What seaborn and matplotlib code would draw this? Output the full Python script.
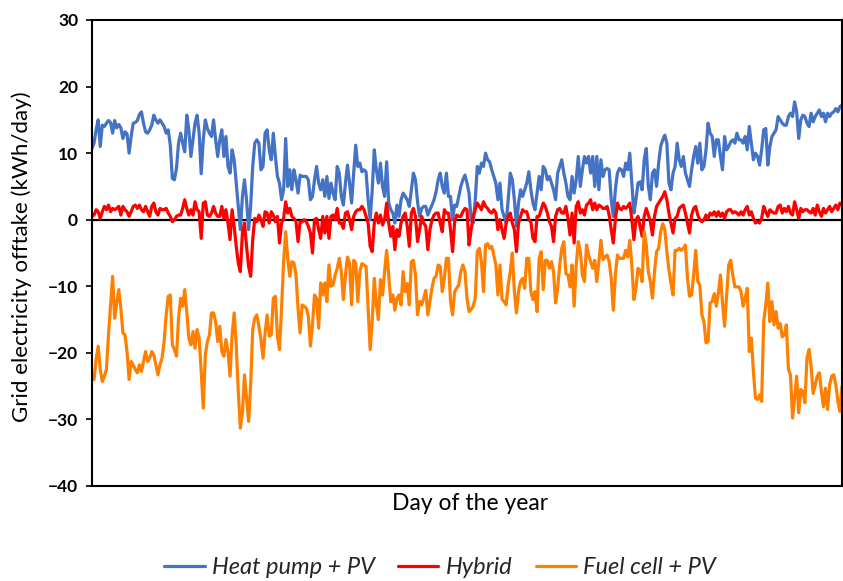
import numpy as np
import pandas as pd
import matplotlib
matplotlib.use("Agg")
import matplotlib.pyplot as plt
from matplotlib.lines import Line2D
import seaborn as sns

# Daily grid electricity offtake (kWh/day), day 1 .. 365
heat_pump_pv = [
    10.7, 11.5, 13.5, 15.0, 11.0, 14.2, 14.0, 14.5, 14.9, 14.6,
    13.0, 14.9, 13.8, 14.3, 13.8, 12.2, 13.2, 12.9, 10.0, 12.5,
    14.5, 14.6, 14.9, 15.8, 16.2, 14.5, 13.2, 13.0, 13.5, 14.2,
    15.7, 15.0, 14.5, 15.0, 14.5, 14.0, 13.0, 13.5, 11.2, 6.2,
    6.0, 7.7, 11.5, 13.0, 11.5, 10.2, 15.7, 13.5, 9.5, 12.0,
    14.5, 15.7, 13.0, 6.9, 12.0, 15.0, 13.7, 13.0, 12.5, 15.0,
    12.0, 9.5, 12.0, 13.5, 9.5, 12.5, 8.0, 7.0, 10.5, 9.0,
    5.5, 2.0, -1.5, 3.5, 6.0, 3.0, -1.5, 2.0, 8.0, 11.5,
    12.0, 11.5, 7.5, 8.0, 13.0, 13.5, 10.5, 9.0, 13.0, 9.5,
    6.5, 5.5, 3.0, 4.5, 12.2, 5.0, 7.5, 4.5, 7.5, 6.0,
    4.0, 6.7, 6.5, 6.5, 6.5, 6.0, 3.0, 3.5, 6.0, 8.0,
    5.5, 4.5, 6.0, 3.5, 6.5, 3.2, 5.5, 4.0, 3.0, 8.0,
    7.0, 3.5, 2.2, 5.5, 8.2, 5.5, 2.5, 7.0, 11.2, 8.0,
    8.5, 7.2, 7.5, 7.2, 3.0, 0.0, 4.5, 10.5, 7.5, 5.5,
    8.5, 5.0, 3.5, 8.7, 2.5, 1.5, 1.0, -0.5, 2.2, 0.5,
    3.0, 4.0, 3.5, 3.0, 2.0, 4.5, 7.0, 6.0, 2.7, 0.5,
    1.7, 2.0, 2.0, 0.7, 1.5, 2.2, 3.0, 4.2, 6.0, 7.0,
    5.0, 4.0, 7.0, 3.5, 3.5, 0.0, 2.2, 2.0, 3.5, 5.0,
    6.0, 6.7, 5.5, 4.0, 0.0, -0.5, 3.0, 8.0, 7.0, 8.5,
    8.0, 10.0, 9.0, 8.7, 7.5, 6.5, 5.5, 3.0, 5.5, 1.5,
    0.5, -0.5, 3.0, 7.0, 6.0, 3.0, -1.0, 2.5, 4.5, 3.5,
    4.5, 5.5, 7.2, 4.5, 2.5, 1.5, 4.0, 6.5, 4.5, 8.0,
    7.5, 6.0, 6.5, 5.5, 4.5, 3.0, 7.0, 8.0, 9.0, 7.0,
    5.5, 3.5, 3.0, 6.5, 4.0, 6.0, 9.5, 5.0, 7.5, 9.5,
    8.5, 9.5, 7.0, 9.5, 5.0, 9.5, 4.5, 9.0, 6.5, 7.5,
    7.7, 7.5, 3.0, 0.5, 4.5, 7.0, 7.7, 7.5, 6.5, 8.5,
    7.5, 10.0, 5.5, 1.0, 3.0, 5.5, 5.7, 4.5, 9.0, 10.7,
    5.0, 3.0, 7.0, 7.5, 5.0, 8.5, 11.0, 12.0, 12.7, 11.5,
    5.5, 4.5, 7.0, 8.0, 11.5, 9.0, 8.0, 9.5, 7.0, 6.0,
    5.0, 7.5, 9.5, 11.0, 8.5, 11.5, 7.5, 8.0, 10.5, 14.5,
    13.0, 12.5, 9.5, 12.0, 12.0, 9.5, 7.5, 12.5, 10.5, 11.0,
    11.7, 12.0, 11.5, 13.0, 12.0, 12.0, 11.5, 12.5, 10.5, 14.0,
    11.5, 9.0, 10.0, 9.5, 8.2, 10.5, 13.5, 13.7, 8.2, 11.0,
    12.5, 13.0, 13.5, 15.5, 15.0, 14.5, 14.2, 14.2, 15.5, 16.0,
    15.5, 17.7, 16.2, 12.2, 15.0, 15.7, 15.5, 14.5, 14.0, 16.0,
    14.7, 15.5, 16.0, 16.5, 15.5, 16.0, 14.7, 16.0, 15.5, 16.0,
    16.2, 16.7, 16.2, 17.0, 17.2,
]

hybrid = [
    0.5, 0.7, 1.5, 1.2, 0.2, 1.2, 2.0, 1.5, 2.2, 1.2,
    1.7, 1.5, 1.7, 2.0, 0.7, 2.0, 1.5, 1.2, 0.5, 1.2,
    2.0, 2.2, 1.7, 2.2, 1.5, 1.2, 2.0, 1.2, 0.5, 2.0,
    2.5, 1.2, 0.7, 1.7, 1.5, 1.5, 1.7, 1.0, 0.5, -0.3,
    0.0, 0.5, 0.7, 0.7, 1.7, 3.0, 1.7, 0.7, 1.5, 0.7,
    2.7, 1.5, 1.2, -2.8, 2.5, 2.7, 0.7, 0.5, 1.0, 2.0,
    1.0, 0.5, 0.5, 2.0, 0.2, 1.5, -0.5, -3.0, 1.5, -1.0,
    -4.0, -6.5, -7.8, -2.0, -0.5, -4.0, -7.0, -8.5, -3.0, 0.2,
    -0.3, 0.7, 0.0, -1.0, 1.2, 1.0, -0.5, 1.2, 0.7, -0.3,
    0.5, -3.5, -0.5, 0.2, 2.7, 1.0, 1.7, 0.5, 0.2, -0.3,
    -3.3, -0.3, -0.3, 0.0, -0.3, -1.0, -2.0, -5.0, 0.0, 0.2,
    -1.5, -2.8, 0.5, -2.0, 0.5, -2.8, 0.5, 0.7, 0.0, 1.7,
    -0.5, -0.5, -1.3, 1.0, 1.2, 0.0, -1.5, 0.5, 1.2, 1.5,
    1.5, 2.0, 1.5, 0.5, -0.5, -4.0, -4.8, -0.5, 1.0, -0.5,
    0.7, -0.8, 0.0, 2.5, -0.5, -2.5, -1.0, -4.5, -1.5, -2.5,
    -0.5, 0.5, 1.0, -1.0, -4.0, 1.0, 1.7, 0.5, -3.3, -1.5,
    0.5, -0.5, -1.0, -4.5, -1.5, 0.0, 0.7, 1.0, 1.0, -0.5,
    -1.8, 1.5, 1.0, 1.0, -1.5, -4.8, -0.3, 0.7, 0.5, 0.5,
    1.2, 1.7, 1.5, -3.8, -1.5, 0.5, 1.5, 2.5, 2.0, 1.5,
    2.7, 2.0, 1.7, 1.2, 1.0, 1.5, 1.0, -1.5, 0.0, -1.5,
    -2.8, -0.5, 0.5, 1.0, -0.5, -1.5, -4.8, -0.5, 0.5, 1.5,
    1.2, 1.2, 0.0, -0.3, -2.8, -3.3, 0.5, 0.5, 1.5, 2.5,
    2.0, 1.0, -0.3, -1.0, -3.3, 0.5, 1.5, 1.7, 1.0, 1.0,
    2.0, 0.2, -2.3, 1.0, -3.5, 2.0, 2.7, 1.0, 1.5, 0.7,
    2.2, 2.5, 3.0, 1.5, 2.5, 1.5, 2.2, 2.0, 1.7, 1.7,
    2.0, 0.7, -1.5, -3.5, 0.0, 2.5, 1.7, 1.5, 2.0, 1.7,
    2.0, 2.5, 0.0, -3.0, 0.0, 0.5, -1.0, -2.5, 0.5, 1.7,
    0.7, -0.3, -2.3, 0.5, 2.0, 2.5, 3.0, 3.5, 4.2, 3.0,
    1.0, -0.5, -2.0, 0.2, 0.5, 1.7, 2.0, 2.2, 1.0, -0.5,
    -2.0, 0.7, 1.7, 2.0, 0.7, 0.0, -0.3, 0.0, 0.7, 0.2,
    1.0, 0.7, 1.2, 0.5, 1.2, 0.5, 1.0, 0.2, 1.2, 1.5,
    1.5, 1.0, 1.2, 1.0, 0.7, 1.2, 0.7, 1.5, 2.0, 0.7,
    1.2, 0.2, -0.5, -0.3, -0.5, 0.2, 2.0, 1.2, 0.5, 1.5,
    1.2, 1.0, 1.0, 2.0, 2.2, 1.0, 1.7, 1.2, 2.0, 1.0,
    0.7, 2.7, 1.5, 0.2, 1.7, 1.2, 1.5, 1.5, 1.2, 1.0,
    1.7, 0.7, 2.2, 1.2, 0.5, 1.7, 1.0, 1.5, 2.0, 1.2,
    1.7, 2.2, 1.5, 2.5, 2.2,
]

fuel_cell_pv = [
    -24.0, -24.0, -21.0, -19.0, -22.5, -24.3, -23.5, -22.5, -17.3, -12.8,
    -8.5, -14.8, -12.5, -10.5, -13.3, -17.0, -17.3, -19.8, -24.0, -21.3,
    -21.8, -22.5, -23.0, -21.8, -22.8, -21.3, -19.8, -21.3, -20.8, -19.8,
    -20.3, -21.8, -23.3, -21.8, -20.8, -18.3, -14.3, -11.5, -11.3, -18.8,
    -19.5, -20.5, -14.8, -11.8, -13.0, -10.5, -13.8, -17.8, -18.8, -16.8,
    -19.3, -16.5, -17.8, -22.8, -28.3, -20.3, -18.3, -17.3, -14.0, -14.0,
    -15.3, -18.3, -16.0, -19.8, -20.5, -18.0, -19.8, -23.5, -17.3, -14.0,
    -18.8, -25.8, -31.3, -29.0, -23.3, -26.8, -30.3, -24.8, -16.5, -14.8,
    -14.3, -16.0, -18.0, -20.8, -17.0, -14.3, -17.5, -17.3, -11.8, -11.5,
    -17.5, -19.5, -13.3, -6.3, -1.8, -5.8, -8.5, -6.3, -6.5, -8.3,
    -13.3, -17.0, -12.8, -13.0, -13.3, -14.5, -19.0, -15.8, -11.3, -11.8,
    -16.3, -9.5, -11.3, -9.5, -12.3, -6.8, -10.0, -9.8, -8.3, -7.3,
    -5.8, -7.8, -12.0, -8.3, -5.6, -6.5, -12.8, -6.1, -6.5, -12.3,
    -7.8, -6.6, -6.8, -7.0, -13.3, -19.5, -15.3, -8.8, -12.8, -15.0,
    -9.0, -11.3, -7.8, -4.6, -8.3, -12.3, -11.3, -13.6, -11.8, -11.3,
    -12.8, -7.8, -10.8, -9.6, -12.8, -6.3, -6.1, -8.3, -14.3, -12.3,
    -12.8, -11.8, -10.6, -14.3, -12.3, -10.3, -8.8, -8.5, -6.8, -7.0,
    -10.8, -8.8, -5.8, -5.8, -12.3, -14.3, -10.8, -10.3, -9.8, -7.8,
    -6.8, -7.8, -11.8, -13.8, -13.5, -13.0, -11.8, -4.8, -4.3, -6.3,
    -10.8, -3.8, -3.6, -4.3, -4.0, -5.3, -6.8, -11.3, -6.8, -12.0,
    -12.3, -12.8, -9.8, -7.8, -5.0, -10.8, -14.0, -10.8, -9.3, -8.8,
    -10.3, -5.8, -5.8, -10.8, -12.0, -10.8, -13.8, -5.8, -4.8, -10.5,
    -6.1, -6.1, -7.3, -6.3, -7.8, -12.5, -10.3, -6.8, -4.3, -3.3,
    -8.1, -8.3, -10.1, -6.8, -13.0, -6.8, -3.3, -4.8, -8.3, -9.3,
    -3.8, -5.3, -6.3, -7.3, -6.1, -9.3, -6.3, -3.1, -6.0, -5.6,
    -5.3, -6.3, -8.8, -13.6, -8.3, -5.3, -5.8, -5.8, -5.8, -4.6,
    -5.6, -3.1, -6.8, -12.0, -10.3, -7.3, -7.6, -9.3, -1.8, -3.8,
    -7.8, -9.3, -11.8, -7.8, -4.8, -4.3, -1.8, -0.6, -1.5, -4.8,
    -7.5, -9.6, -11.3, -4.6, -4.6, -4.3, -4.6, -4.3, -3.8, -8.8,
    -11.5, -11.3, -8.3, -4.6, -9.3, -9.8, -14.3, -15.3, -18.5, -18.3,
    -12.5, -12.3, -11.1, -13.0, -11.0, -8.3, -12.5, -16.0, -11.3, -6.8,
    -6.1, -8.3, -10.1, -10.1, -10.1, -10.8, -13.0, -11.8, -10.3, -19.8,
    -17.8, -22.8, -26.8, -27.0, -26.3, -27.3, -15.3, -12.8, -9.5, -15.3,
    -12.3, -15.8, -13.8, -16.3, -15.6, -17.6, -17.3, -15.8, -22.5, -23.3,
    -29.8, -26.8, -23.5, -29.0, -25.5, -25.8, -27.5, -20.8, -19.5, -22.0,
    -26.1, -24.8, -23.5, -23.0, -25.8, -28.1, -25.3, -28.5, -24.8, -23.5,
    -23.3, -24.8, -27.3, -28.8, -25.0,
]

series_names = ["Heat pump + PV", "Hybrid", "Fuel cell + PV"]
series_colors = ["#4472C4", "#FF0000", "#FF8000"]
y_ticks = [-40, -30, -20, -10, 0, 10, 20, 30]

df = pd.DataFrame({
    "day": np.concatenate([np.arange(1, len(s) + 1) for s in (heat_pump_pv, hybrid, fuel_cell_pv)]),
    "value": heat_pump_pv + hybrid + fuel_cell_pv,
    "series": [series_names[0]] * len(heat_pump_pv)
              + [series_names[1]] * len(hybrid)
              + [series_names[2]] * len(fuel_cell_pv),
})

sns.set_theme(style="white")
plt.rcParams["font.family"] = ["Lato", "DejaVu Sans"]

W, H = 843, 581
fig = plt.figure(figsize=(W / 100, H / 100), dpi=100)
ax = fig.add_axes([92 / W, (H - 486) / H, (842 - 92) / W, (486 - 20) / H])

ax.axhline(0, color="black", lw=1.6, zorder=1)
sns.lineplot(data=df, x="day", y="value", hue="series", hue_order=series_names,
             palette=dict(zip(series_names, series_colors)), estimator=None,
             sort=False, lw=2.3, legend=False, ax=ax, zorder=2)

ax.set_xlim(1, 365)
ax.set_ylim(-40, 30)
ax.set_xticks([])
ax.set_yticks(y_ticks)
ax.set_yticklabels([f"{t}".replace("-", "\u2212") for t in y_ticks],
                   fontweight="bold", fontsize=12.5, color="black")
ax.tick_params(axis="y", direction="out", length=4, width=1.2, color="black", pad=6, left=True)

for side in ["left", "bottom", "top", "right"]:
    ax.spines[side].set_color("black")
    ax.spines[side].set_linewidth(1.5)
    ax.spines[side].set_visible(True)

ax.set_xlabel("Day of the year", fontsize=16.5, color="black")
ax.xaxis.set_label_coords(0.504, -0.016)
ax.set_ylabel("Grid electricity offtake (kWh/day)", fontsize=16, color="black")
ax.yaxis.set_label_coords(-0.08, 0.492)

handles = [Line2D([0], [0], color=c, lw=2.3) for c in series_colors]
fig.legend(handles, series_names, loc="center", bbox_to_anchor=(0.522, 0.023),
           ncol=3, frameon=False, handlelength=1.7, handletextpad=0.3, columnspacing=1.0,
           prop={"size": 17, "style": "italic"})

fig.savefig("out.png", dpi=100)
